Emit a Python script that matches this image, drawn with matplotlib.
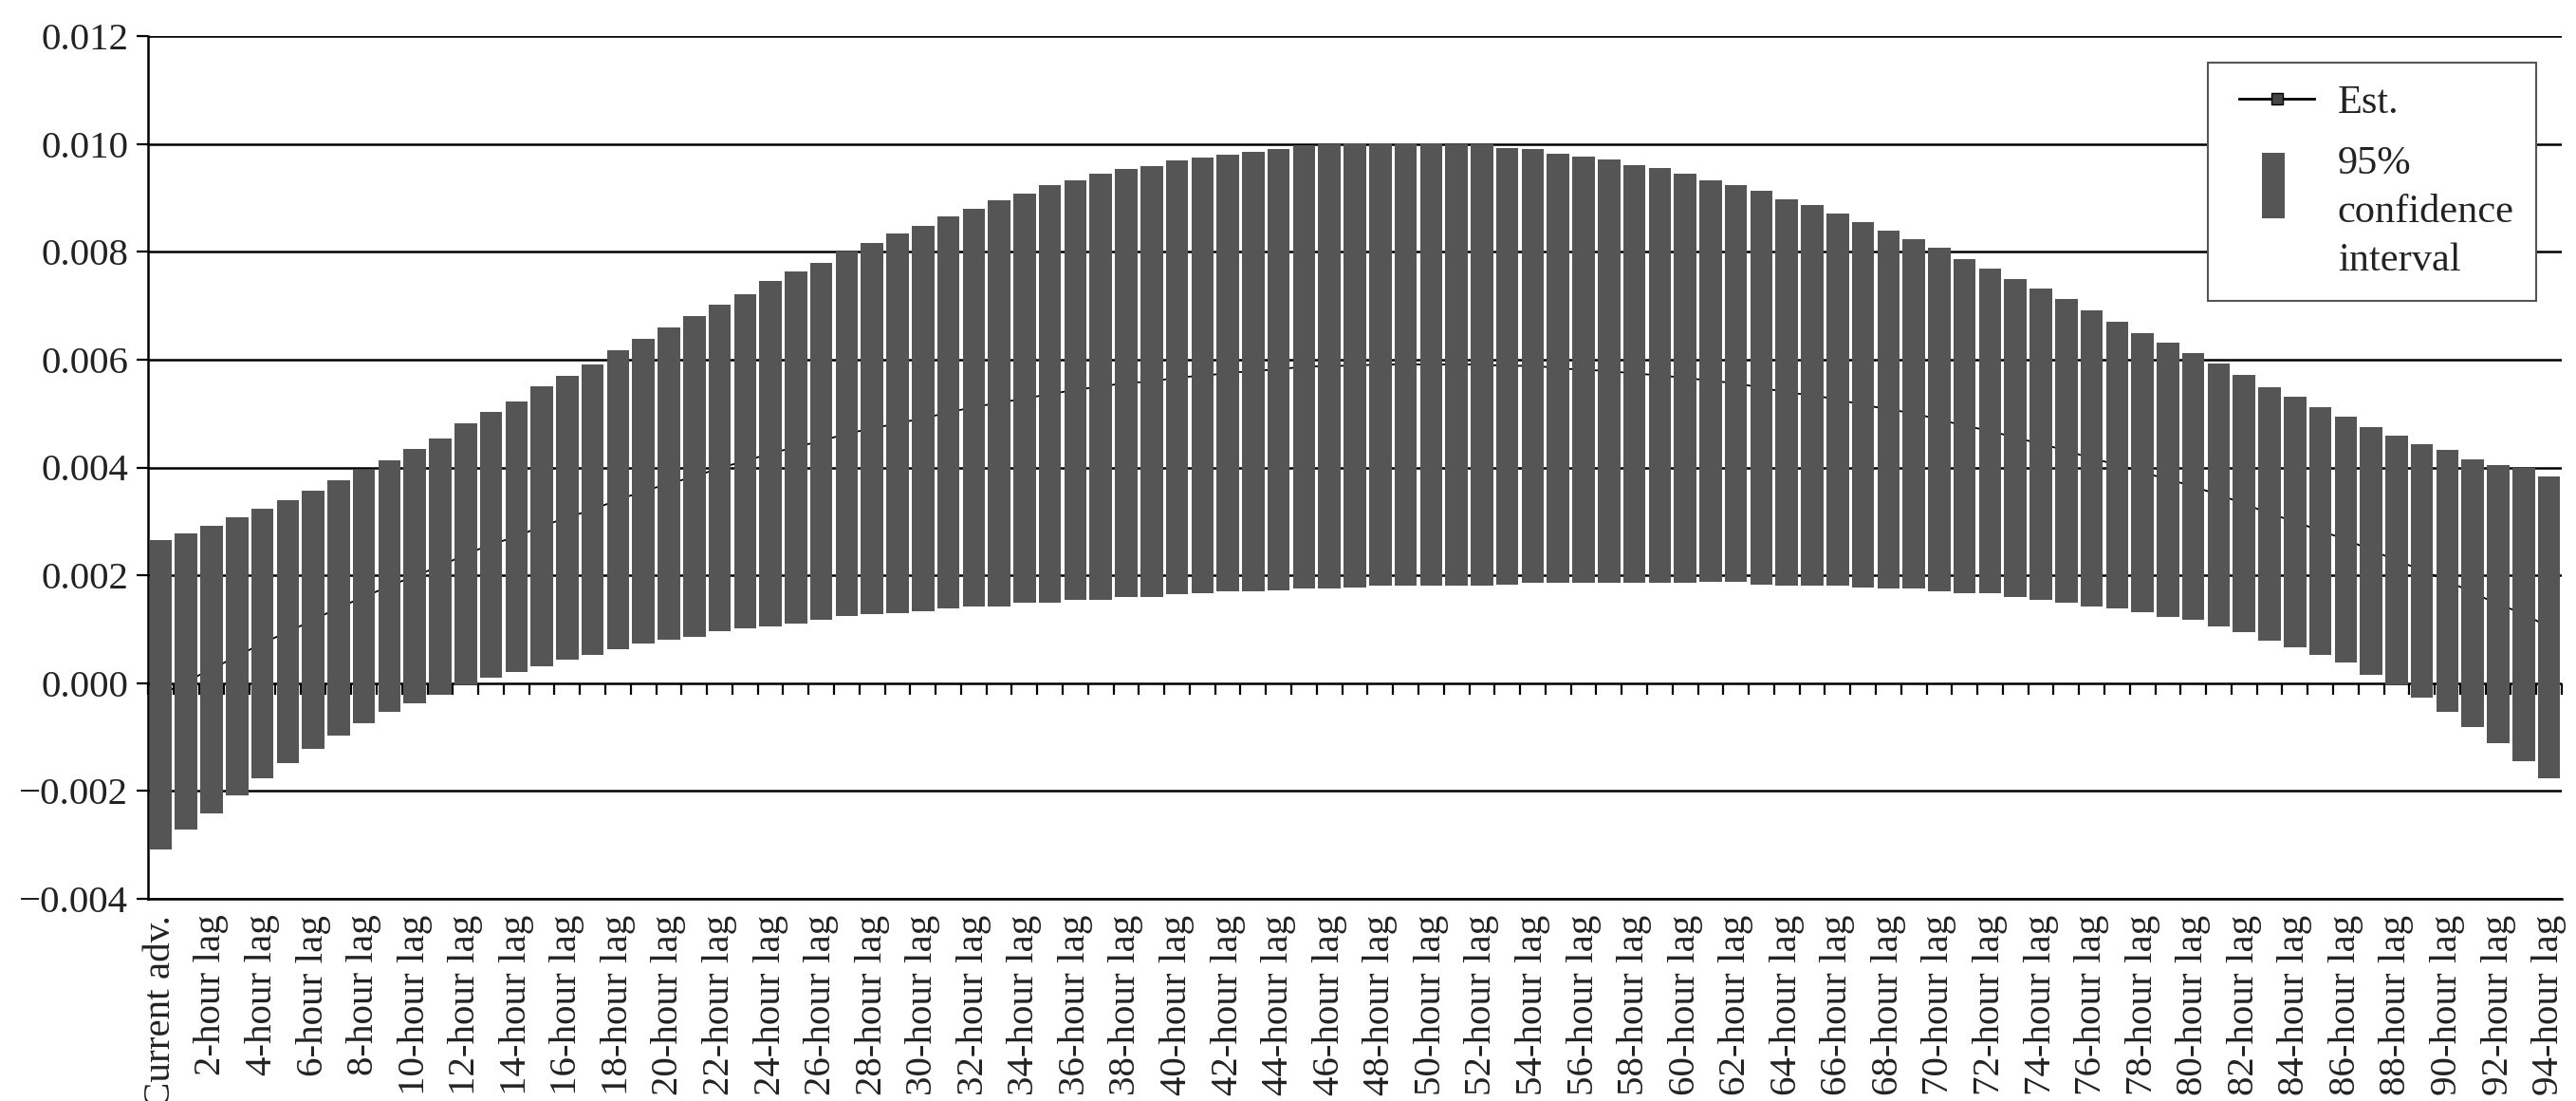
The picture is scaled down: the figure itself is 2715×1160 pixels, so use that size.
import numpy as np
import matplotlib
matplotlib.use("Agg")
import matplotlib.pyplot as plt
from matplotlib.patches import Rectangle
from matplotlib.lines import Line2D
from matplotlib.legend_handler import HandlerPatch, HandlerLine2D
from matplotlib.ticker import FuncFormatter

plt.rcParams['font.family'] = ['Liberation Serif', 'DejaVu Serif']

# Etiquetas del eje x (una barra por hora, etiqueta cada 2 horas)
hours = np.arange(95)
tick_labels = ['Current adv.'] + ['%d-hour lag' % h for h in range(2, 95, 2)]

# Límite superior del intervalo de confianza al 95%
upper = [
    0.00266, 0.00277, 0.00292, 0.00308, 0.00323, 0.00339, 0.00356, 0.00376, 0.00395, 0.00413,
    0.00435, 0.00454, 0.00481, 0.00503, 0.00523, 0.00551, 0.00570, 0.00591, 0.00617, 0.00638,
    0.00659, 0.00680, 0.00701, 0.00722, 0.00745, 0.00764, 0.00780, 0.00801, 0.00816, 0.00834,
    0.00848, 0.00866, 0.00880, 0.00896, 0.00907, 0.00923, 0.00932, 0.00944, 0.00954, 0.00959,
    0.00969, 0.00974, 0.00980, 0.00986, 0.00991, 0.00997, 0.01000, 0.01001, 0.01001, 0.01001,
    0.01001, 0.01000, 0.01000, 0.00993, 0.00991, 0.00981, 0.00976, 0.00972, 0.00961, 0.00955,
    0.00945, 0.00933, 0.00923, 0.00913, 0.00897, 0.00886, 0.00870, 0.00855, 0.00839, 0.00824,
    0.00807, 0.00787, 0.00769, 0.00749, 0.00732, 0.00712, 0.00691, 0.00671, 0.00649, 0.00632,
    0.00612, 0.00592, 0.00571, 0.00549, 0.00532, 0.00512, 0.00495, 0.00475, 0.00459, 0.00444,
    0.00432, 0.00415, 0.00405, 0.00399, 0.00384,
]

# Límite inferior del intervalo de confianza al 95%
lower = [
    -0.00309, -0.00271, -0.00241, -0.00209, -0.00176, -0.00149, -0.00122, -0.00097, -0.00075, -0.00053,
    -0.00037, -0.00021, -0.00003, 0.00011, 0.00021, 0.00031, 0.00044, 0.00053, 0.00063, 0.00074,
    0.00081, 0.00085, 0.00096, 0.00101, 0.00106, 0.00111, 0.00118, 0.00124, 0.00128, 0.00129,
    0.00134, 0.00138, 0.00143, 0.00143, 0.00149, 0.00149, 0.00155, 0.00155, 0.00159, 0.00159,
    0.00165, 0.00166, 0.00170, 0.00171, 0.00172, 0.00176, 0.00176, 0.00177, 0.00181, 0.00181,
    0.00181, 0.00181, 0.00181, 0.00183, 0.00186, 0.00186, 0.00186, 0.00186, 0.00187, 0.00187,
    0.00187, 0.00188, 0.00188, 0.00183, 0.00181, 0.00181, 0.00181, 0.00177, 0.00176, 0.00176,
    0.00171, 0.00166, 0.00166, 0.00160, 0.00155, 0.00150, 0.00143, 0.00138, 0.00132, 0.00123,
    0.00117, 0.00106, 0.00095, 0.00079, 0.00067, 0.00052, 0.00038, 0.00016, -0.00003, -0.00027,
    -0.00053, -0.00081, -0.00112, -0.00144, -0.00177,
]

# Estimación puntual
est = [
    -0.00022, 0.00003, 0.00026, 0.00050, 0.00074, 0.00095, 0.00117, 0.00140, 0.00160, 0.00180,
    0.00199, 0.00217, 0.00239, 0.00257, 0.00272, 0.00291, 0.00307, 0.00322, 0.00340, 0.00356,
    0.00370, 0.00383, 0.00399, 0.00412, 0.00426, 0.00438, 0.00449, 0.00463, 0.00472, 0.00482,
    0.00491, 0.00502, 0.00512, 0.00520, 0.00528, 0.00536, 0.00544, 0.00550, 0.00557, 0.00559,
    0.00567, 0.00570, 0.00575, 0.00579, 0.00582, 0.00587, 0.00588, 0.00589, 0.00591, 0.00591,
    0.00591, 0.00591, 0.00591, 0.00588, 0.00589, 0.00584, 0.00581, 0.00579, 0.00574, 0.00571,
    0.00566, 0.00561, 0.00556, 0.00548, 0.00539, 0.00534, 0.00526, 0.00516, 0.00508, 0.00500,
    0.00489, 0.00477, 0.00468, 0.00455, 0.00444, 0.00431, 0.00417, 0.00405, 0.00391, 0.00378,
    0.00365, 0.00349, 0.00333, 0.00314, 0.00300, 0.00282, 0.00267, 0.00246, 0.00228, 0.00209,
    0.00190, 0.00167, 0.00147, 0.00128, 0.00104,
]

y_ticks = np.arange(-0.004, 0.0121, 0.002)
bar_color = '#555555'
fs = 29.5
fs_leg = 30.5

upper = np.array(upper)
lower = np.array(lower)

fig = plt.figure(figsize=(27.15, 11.6), dpi=100)
ax = fig.add_axes([156 / 2715, 1 - 947 / 1160, (2700 - 156) / 2715, (947 - 38) / 1160])

# Líneas de la cuadrícula detrás de todo
ax.set_axisbelow(True)
ax.yaxis.grid(True, color='black', linewidth=1.8)

ax.plot(hours, est, color='black', linewidth=1.3, marker='s', markersize=6,
        markerfacecolor='#444444', markeredgecolor='black', zorder=2)
ax.bar(hours, upper - lower, bottom=lower, width=0.88, color=bar_color, zorder=3)

ax.set_xlim(-0.5, len(hours) - 0.5)
ax.set_ylim(y_ticks[0], y_ticks[-1])

# Marcas del eje horizontal en y = 0, entre categorías
boundaries = np.arange(len(hours) + 1) - 0.5
tick_len = 0.016 / 909 * 12
ax.vlines(boundaries, -tick_len, 0, color='black', linewidth=1.6, zorder=1, clip_on=False)

ax.set_yticks(y_ticks)
ax.yaxis.set_major_formatter(FuncFormatter(lambda v, p: ('%.3f' % v).replace('-', '\u2212')))
ax.tick_params(axis='y', direction='out', length=9, width=1.6, labelsize=fs, pad=6,
               colors='black', labelcolor='#222222')

ax.set_xticks(hours[::2])
ax.set_xticklabels(tick_labels, rotation=90, fontsize=fs, color='#222222')
ax.tick_params(axis='x', length=0, pad=12)

for s in ['top', 'right']:
    ax.spines[s].set_visible(False)
ax.spines['left'].set_linewidth(1.8)
ax.spines['bottom'].set_linewidth(1.8)


def make_bar(legend, orig_handle, xdescent, ydescent, width, height, fontsize):
    # barra estrecha y alta, como en la leyenda original
    w = 0.57 * fontsize
    return Rectangle((-xdescent + (width - w) / 2 + 0.03 * fontsize, -ydescent + 0.2 * fontsize),
                     w, 1.63 * fontsize)


est_handle = Line2D([], [], color='black', linewidth=2.0, marker='s', markersize=9,
                    markerfacecolor='#444444', markeredgecolor='black')
ci_handle = Rectangle((0, 0), 1, 1, facecolor=bar_color, edgecolor='none')
leg = ax.legend([est_handle, ci_handle], ['Est.', '95%\nconfidence\ninterval'],
                loc='upper right', bbox_to_anchor=(0.9894, 0.9692), borderaxespad=0,
                fontsize=fs_leg, frameon=True, fancybox=False, framealpha=1,
                edgecolor='#555555', handlelength=2.09, handletextpad=0.58,
                borderpad=0.55, labelspacing=0.6,
                handler_map={Rectangle: HandlerPatch(patch_func=make_bar),
                             Line2D: HandlerLine2D(xpad=0.22)})
leg.get_frame().set_linewidth(1.5)
for t in leg.get_texts():
    t.set_color('#222222')
    t.set_linespacing(1.42)

fig.savefig('out.png', dpi=100, facecolor='white')
